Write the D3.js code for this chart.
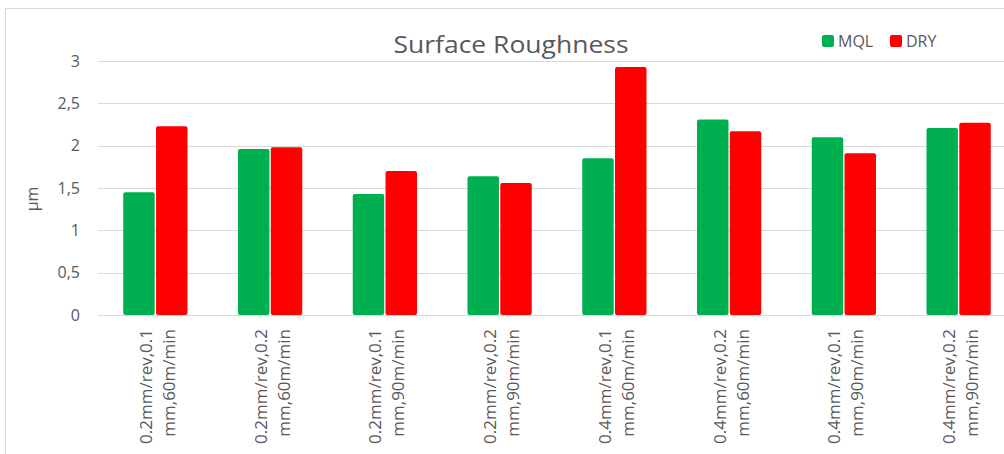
<!DOCTYPE html>
<html>
<head>
<meta charset="utf-8">
<script src="https://cdn.jsdelivr.net/npm/d3@7"></script>
<style>
  html, body { margin: 0; padding: 0; background: #fff; }
  svg { display: block; font-family: "Open Sans", "Noto Sans", sans-serif; }
</style>
</head>
<body>
<svg id="chart" width="1004" height="454"></svg>
<script>
// Cutting conditions (feed, depth of cut, cutting speed), two lines each
const categories = [
  ["0.2mm/rev,0.1", "mm,60m/min"],
  ["0.2mm/rev,0.2", "mm,60m/min"],
  ["0.2mm/rev,0.1", "mm,90m/min"],
  ["0.2mm/rev,0.2", "mm,90m/min"],
  ["0.4mm/rev,0.1", "mm,60m/min"],
  ["0.4mm/rev,0.2", "mm,60m/min"],
  ["0.4mm/rev,0.1", "mm,90m/min"],
  ["0.4mm/rev,0.2", "mm,90m/min"]
];
const seriesNames = ["MQL", "DRY"];
const mqlValues = [1.45, 1.96, 1.43, 1.64, 1.85, 2.31, 2.10, 2.21];
const dryValues = [2.23, 1.98, 1.70, 1.56, 2.93, 2.17, 1.91, 2.27];
const yTicks = [0, 0.5, 1, 1.5, 2, 2.5, 3];
const yTickLabels = ["0", "0,5", "1", "1,5", "2", "2,5", "3"];

const colors = { MQL: "#00b050", DRY: "#ff0000" };
const textColor = "#595959";
const gridColor = "#d9d9d9";

const svg = d3.select("#chart");

// chart frame
svg.append("rect")
  .attr("x", 5.5).attr("y", 8.5)
  .attr("width", 1100).attr("height", 600)
  .attr("fill", "none").attr("stroke", gridColor).attr("stroke-width", 1);

const plot = { left: 98, right: 1016, top: 61, bottom: 315 };

const x0 = d3.scaleBand()
  .domain(d3.range(categories.length))
  .range([plot.left, plot.right])
  .paddingInner(0.44).paddingOuter(0.22);

const x1 = d3.scaleBand()
  .domain(seriesNames)
  .range([0, x0.bandwidth()])
  .paddingInner(0.04);

const y = d3.scaleLinear().domain([0, 3]).range([plot.bottom, plot.top]);

// horizontal gridlines
svg.append("g")
  .selectAll("line")
  .data(yTicks)
  .join("line")
  .attr("x1", plot.left).attr("x2", 1004)
  .attr("y1", d => Math.round(y(d)) + 0.5)
  .attr("y2", d => Math.round(y(d)) + 0.5)
  .attr("stroke", gridColor).attr("stroke-width", 1);

// y axis labels
const yAxis = d3.axisLeft(y)
  .tickValues(yTicks)
  .tickFormat((d, i) => yTickLabels[i])
  .tickSize(0).tickPadding(0);
const yg = svg.append("g")
  .attr("transform", `translate(${plot.left - 18},0)`)
  .call(yAxis);
yg.select(".domain").remove();
yg.selectAll("text")
  .attr("fill", textColor)
  .style("font-size", "16px")
  .style("font-family", "'Open Sans', sans-serif");

// y axis title
svg.append("text")
  .attr("transform", `translate(38,199) rotate(-90)`)
  .attr("text-anchor", "middle")
  .attr("fill", textColor)
  .style("font-size", "16px")
  .text("µm");

// bars
const rows = categories.map((c, i) => ({ i, MQL: mqlValues[i], DRY: dryValues[i] }));
const groups = svg.append("g")
  .selectAll("g")
  .data(rows)
  .join("g")
  .attr("transform", d => `translate(${x0(d.i)},0)`);

groups.selectAll("rect")
  .data(d => seriesNames.map(k => ({ key: k, value: d[k] })))
  .join("rect")
  .attr("x", d => x1(d.key))
  .attr("y", d => y(d.value))
  .attr("width", x1.bandwidth())
  .attr("height", d => y(0) - y(d.value))
  .attr("rx", 2)
  .attr("fill", d => colors[d.key]);

// category labels, rotated, two lines each
const xLabels = svg.append("g")
  .selectAll("text")
  .data(categories)
  .join("text")
  .attr("transform", (d, i) => `translate(${x0(i) + x0.bandwidth() / 2 - 3.5},329) rotate(-90)`)
  .attr("text-anchor", "end")
  .attr("fill", textColor)
  .style("font-size", "17px");
xLabels.selectAll("tspan")
  .data(d => d)
  .join("tspan")
  .attr("x", 0)
  .attr("y", (d, j) => j * 23)
  .text(d => d);

// title
svg.append("text")
  .attr("x", 511).attr("y", 53)
  .attr("text-anchor", "middle")
  .attr("fill", textColor)
  .attr("textLength", 235)
  .attr("lengthAdjust", "spacingAndGlyphs")
  .style("font-size", "24px")
  .text("Surface Roughness");

// legend
const legend = svg.append("g")
  .selectAll("g")
  .data(seriesNames)
  .join("g")
  .attr("transform", (d, i) => `translate(${822 + i * 68},35)`);
legend.append("rect")
  .attr("width", 12).attr("height", 12).attr("rx", 2)
  .attr("fill", d => colors[d]);
legend.append("text")
  .attr("x", 16).attr("y", 12)
  .attr("fill", textColor)
  .style("font-size", "16px")
  .text(d => d);
</script>
</body>
</html>
